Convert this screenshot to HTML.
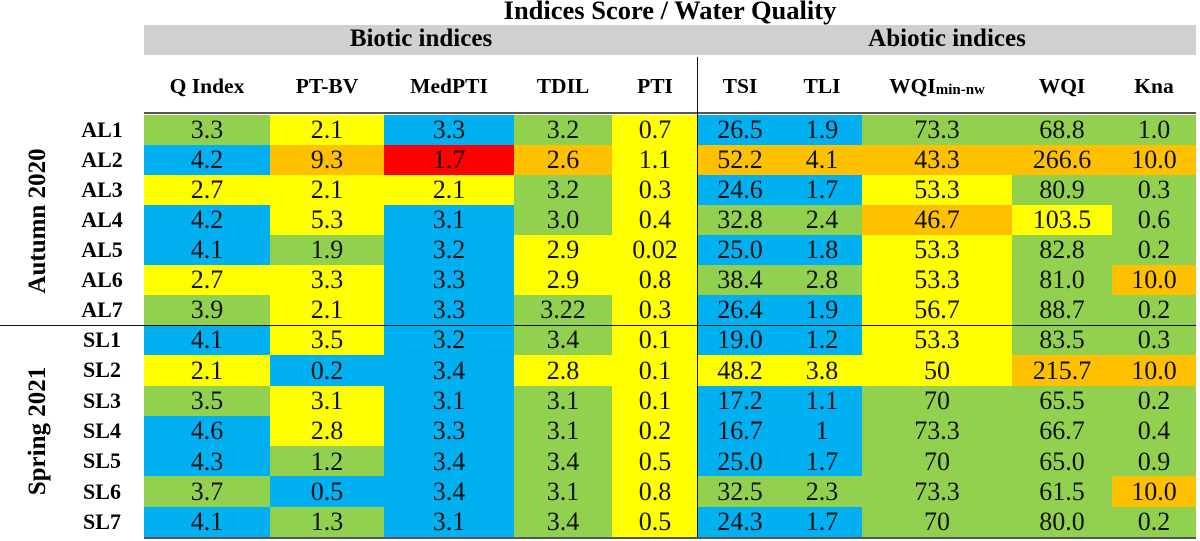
<!DOCTYPE html>
<html><head><meta charset="utf-8">
<style>
body{margin:0;background:#fff;}
#wrap{position:relative;width:1200px;height:541px;overflow:hidden;font-family:"Liberation Serif",serif;}
.t{position:absolute;white-space:nowrap;}
.b{font-weight:bold;}
.cell{position:absolute;display:flex;align-items:center;justify-content:center;font-size:26px;color:#111;}
.hdr{position:absolute;font-weight:bold;font-size:21.5px;display:flex;align-items:center;justify-content:center;white-space:nowrap;}
</style></head><body>
<div id="wrap">
<div class="t b" style="left:470px;top:-5px;width:400px;text-align:center;font-size:26.5px;">Indices Score / Water Quality</div>
<div style="position:absolute;left:144px;top:25px;width:1052px;height:30px;background:#d0d0d0;"></div>
<div class="t b" style="left:144px;top:25px;width:554px;text-align:center;font-size:25px;">Biotic indices</div>
<div class="t b" style="left:698px;top:25px;width:498px;text-align:center;font-size:25px;">Abiotic indices</div>
<div id="grid"></div>
<div style="position:absolute;left:144px;top:112px;width:1052px;height:2px;background:#555;"></div>
<div style="position:absolute;left:0;top:325px;width:1196px;height:1px;background:#111;"></div>
<div style="position:absolute;left:144px;top:537px;width:1052px;height:2px;background:#555;"></div>
<div style="position:absolute;left:697px;top:57px;width:1px;height:480px;background:#111;"></div>
<div class="t b" style="left:38px;top:221px;font-size:25px;transform:translate(-50%,-50%) rotate(-90deg);">Autumn 2020</div>
<div class="t b" style="left:38px;top:431px;font-size:25px;transform:translate(-50%,-50%) rotate(-90deg);">Spring 2021</div>
</div>
<script>
const columns=["Q Index","PT-BV","MedPTI","TDIL","PTI","TSI","TLI","WQImin-nw","WQI","Kna"];
const rows=["AL1","AL2","AL3","AL4","AL5","AL6","AL7","SL1","SL2","SL3","SL4","SL5","SL6","SL7"];
const values=[
["3.3","2.1","3.3","3.2","0.7","26.5","1.9","73.3","68.8","1.0"],
["4.2","9.3","1.7","2.6","1.1","52.2","4.1","43.3","266.6","10.0"],
["2.7","2.1","2.1","3.2","0.3","24.6","1.7","53.3","80.9","0.3"],
["4.2","5.3","3.1","3.0","0.4","32.8","2.4","46.7","103.5","0.6"],
["4.1","1.9","3.2","2.9","0.02","25.0","1.8","53.3","82.8","0.2"],
["2.7","3.3","3.3","2.9","0.8","38.4","2.8","53.3","81.0","10.0"],
["3.9","2.1","3.3","3.22","0.3","26.4","1.9","56.7","88.7","0.2"],
["4.1","3.5","3.2","3.4","0.1","19.0","1.2","53.3","83.5","0.3"],
["2.1","0.2","3.4","2.8","0.1","48.2","3.8","50","215.7","10.0"],
["3.5","3.1","3.1","3.1","0.1","17.2","1.1","70","65.5","0.2"],
["4.6","2.8","3.3","3.1","0.2","16.7","1","73.3","66.7","0.4"],
["4.3","1.2","3.4","3.4","0.5","25.0","1.7","70","65.0","0.9"],
["3.7","0.5","3.4","3.1","0.8","32.5","2.3","73.3","61.5","10.0"],
["4.1","1.3","3.1","3.4","0.5","24.3","1.7","70","80.0","0.2"]];
const classes=[
"GYBGYBBGGG","BOROYOOOOO","YYYGYBBYGG","BYBGYGGOYG","BGBYYBBYGG","YYBYYGGYGO","GYBGYBBYGG",
"BYBGYBBYGG","YBBYYYYYOO","GYBGYBBGGG","BYBGYBBGGG","BGBGYBBGGG","GBBGYGGGGO","BGBGYBBGGG"];
const palette={G:"#92d050",Y:"#ffff00",B:"#00b0f0",O:"#ffc000",R:"#ff0000"};
const colEdges=[144,270,384,514,612,698,782,862,1012,1112,1196];
function rowTop(i){return i<7?115+i*30:325+(i-7)*(212/7);}
function rowH(i){return i<7?30:212/7;}
const grid=document.getElementById('grid');
const wrap=document.getElementById('wrap');
columns.forEach((c,j)=>{
  const h=document.createElement('div');
  h.className='hdr';
  
  
  h.style.left=colEdges[j]+'px';h.style.width=(colEdges[j+1]-colEdges[j])+'px';
  h.style.top='68px';h.style.height='36px';
  if(c==="WQImin-nw"){h.innerHTML='WQI<span style="font-size:15px;position:relative;top:4px">min-nw</span>';}
  else h.textContent=c;
  wrap.appendChild(h);
});
rows.forEach((r,i)=>{
  const l=document.createElement('div');
  l.className='hdr';
  
  
  l.style.left='70px';l.style.width='64px';
  l.style.top=rowTop(i)+'px';l.style.height=rowH(i)+'px';
  l.style.fontSize='22px';
  l.textContent=r;
  wrap.appendChild(l);
  values[i].forEach((v,j)=>{
    const d=document.createElement('div');
    d.className='cell';
    
    
    d.style.left=colEdges[j]+'px';d.style.width=(colEdges[j+1]-colEdges[j])+'px';
    d.style.top=rowTop(i)+'px';d.style.height=(rowH(i)+0.5)+'px';
    d.style.background=palette[classes[i][j]];
    d.textContent=v;
    grid.appendChild(d);
  });
});
</script>
</body></html>
